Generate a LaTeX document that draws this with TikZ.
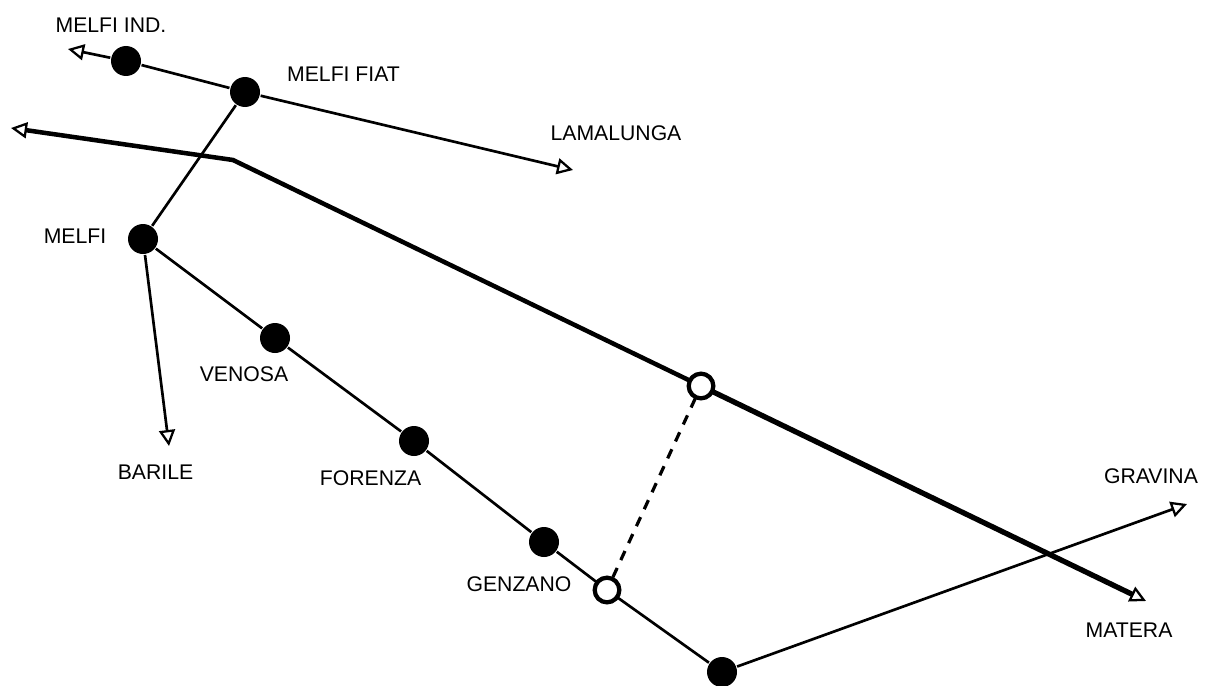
\documentclass[tikz,border=0pt]{standalone}
\usepackage{fontspec}
\setmainfont{Liberation Sans}
\usetikzlibrary{arrows.meta}
\tikzset{
  x=0.75pt,y=-0.75pt,
  stopfull/.style={circle,fill=black,draw=none,inner sep=0pt,minimum size=22.5pt,outer sep=0.8pt},
  stopopen/.style={circle,fill=white,draw=black,line width=3.2pt,inner sep=0pt,minimum size=18.5pt,outer sep=1pt},
  lab/.style={font=\fontsize{15.9}{18}\selectfont,inner sep=0pt,anchor=center},
  thinline/.style={line width=2pt},
  thickline/.style={line width=3.4pt},
  opentip/.style={-{Triangle[open,length=12pt,width=12pt,line width=1.7pt]}},
}
\begin{document}
\begin{tikzpicture}
\useasboundingbox (0,0) rectangle (1209,685);
\node[stopfull] (ind) at (126,61) {};
\node[stopfull] (fiat) at (245,92) {};
\node[stopfull] (melfi) at (143,239) {};
\node[stopfull] (venosa) at (275,338) {};
\node[stopfull] (forenza) at (414,441) {};
\node[stopfull] (genzano) at (544,542) {};
\node[stopfull] (south) at (722,672) {};
\node[stopopen] (opena) at (701,386) {};
\node[stopopen] (openb) at (607,590) {};
\coordinate (west) at (68,49);
\coordinate (lama) at (573,170);
\coordinate (bar) at (169,446);
\coordinate (grav) at (1187,504);
\coordinate (mat) at (1146,601);
\coordinate (far) at (11,128);
\coordinate (bend) at (233,160);
\draw[thinline,opentip] (ind) -- (west);
\draw[thinline] (ind) -- (fiat);
\draw[thinline,opentip] (fiat) -- (lama);
\draw[thinline] (fiat) -- (melfi);
\draw[thinline,opentip] (melfi) -- (bar);
\draw[thinline] (melfi) -- (venosa);
\draw[thinline] (venosa) -- (forenza);
\draw[thinline] (forenza) -- (genzano);
\draw[thinline] (genzano) -- (openb);
\draw[thinline] (openb) -- (south);
\draw[thinline,opentip] (south) -- (grav);
\draw[thickline,opentip] (opena) -- (bend) -- (far);
\draw[line width=4pt,opentip] (opena) -- (mat);
\draw[line width=2.4pt,dash pattern=on 7.5pt off 6.5pt] (opena) -- (openb);
\node[lab] (t1) at (111,25) {MELFI IND.};
\node[lab] (t2) at (343.5,74) {MELFI FIAT};
\node[lab] (t3) at (616,133) {LAMALUNGA};
\node[lab] (t4) at (75,236) {MELFI};
\node[lab] (t5) at (244,374) {VENOSA};
\node[lab] (t6) at (155.5,472) {BARILE};
\node[lab] (t7) at (370.5,478) {FORENZA};
\node[lab] (t8) at (519,584) {GENZANO};
\node[lab] (t9) at (1151,476) {GRAVINA};
\node[lab] (t10) at (1129,630) {MATERA};
\end{tikzpicture}
\end{document}
